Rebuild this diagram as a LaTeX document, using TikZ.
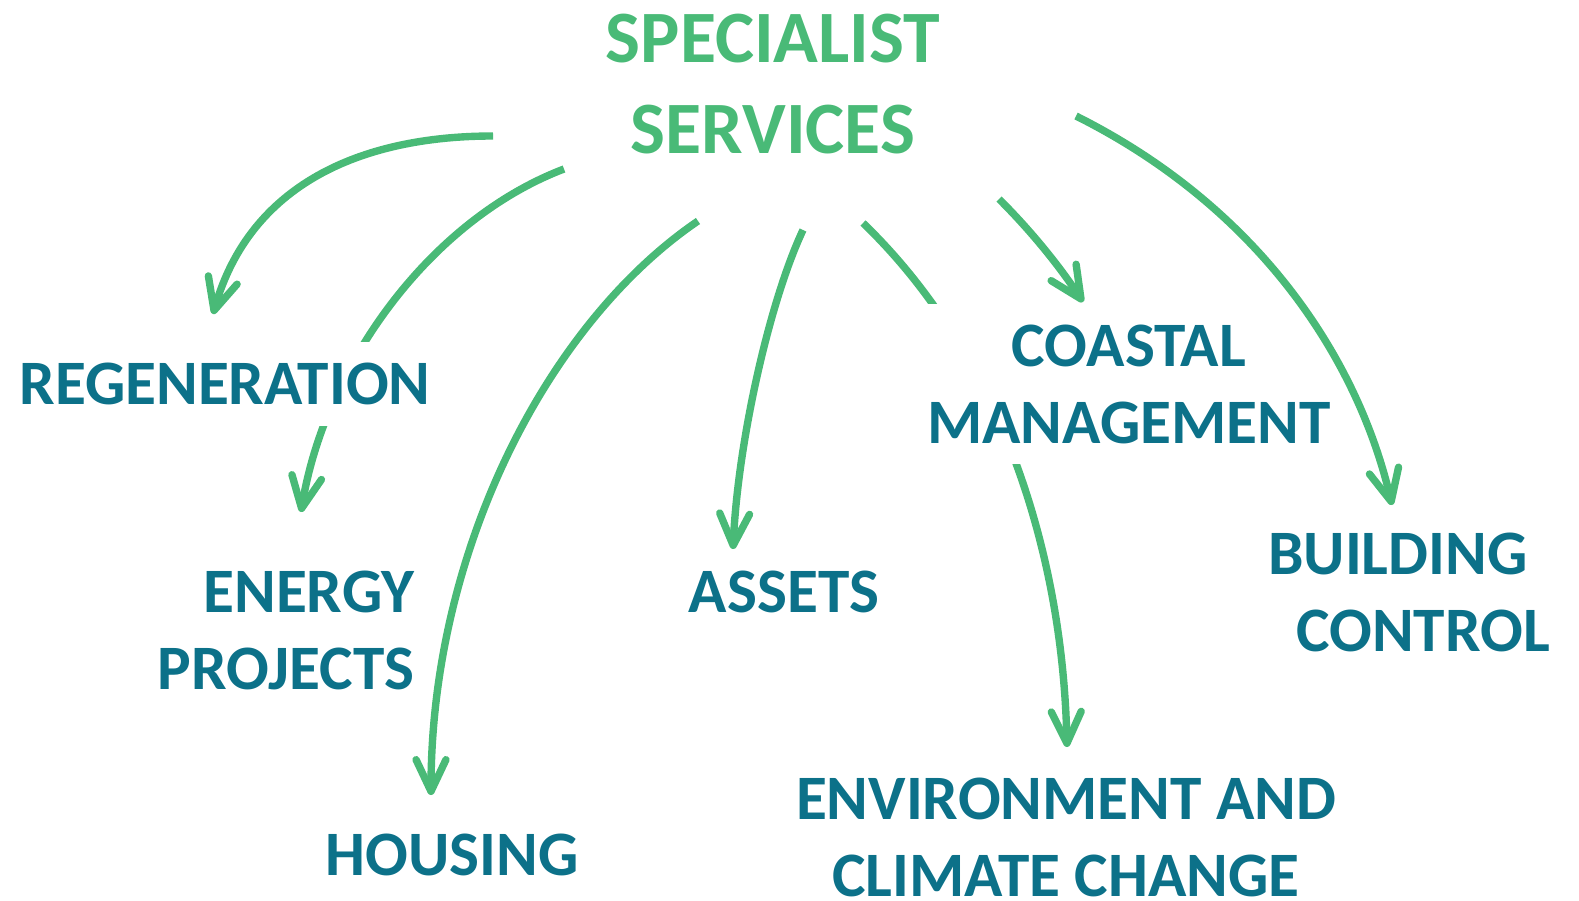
\documentclass[tikz,border=0pt]{standalone}
\usepackage{fontspec}
\setmainfont{Carlito}
\usepackage{xcolor}
\usetikzlibrary{arrows.meta,positioning}

\definecolor{svgreen}{HTML}{49BA77}
\definecolor{svteal}{HTML}{0C7189}

\tikzset{
    svc/.style={font=\bfseries\fontsize{18}{21.9}\selectfont, text=svteal, inner sep=0pt, align=center},
    head/.style={svc, text=svgreen, font=\bfseries\fontsize{21}{25.9}\selectfont},
    cover/.style={fill=white, inner xsep=4pt, inner ysep=0.21cm},
    link/.style={svgreen, line width=2.1pt, -{Straight Barb[length=9pt,width=8.5pt,round]}}
}

\begin{document}
\begin{tikzpicture}[x=0.01cm, y=-0.01cm]
    \useasboundingbox (0,0) rectangle (1579,900);

    % Start and end points
    \coordinate (s-regen) at (493,136);
    \coordinate (t-regen) at (213,314);
    \coordinate (s-energy) at (564,169);
    \coordinate (t-energy) at (301,512);
    \coordinate (s-housing) at (698,221);
    \coordinate (t-housing) at (431,795);
    \coordinate (s-assets) at (803,230);
    \coordinate (t-assets) at (733,549);
    \coordinate (s-env) at (863,223);
    \coordinate (t-env) at (1067,747);
    \coordinate (s-coastal) at (999,199);
    \coordinate (t-coastal) at (1083,302);
    \coordinate (s-building) at (1076,116);
    \coordinate (t-building) at (1392,505);

    % Arrows running behind a label
    \draw[link] (s-energy) .. controls (430,220) and (325,365) .. (t-energy);
    \draw[link] (s-env) .. controls (1005,360) and (1063,560) .. (t-env);

    % Labels
    \node[head] (spec) at (773,84) {SPECIALIST\\SERVICES};
    \node[svc, cover] (regen) at (225,384) {REGENERATION};
    \node[svc, align=right] (energy) at (286,630) {ENERGY\\PROJECTS};
    \node[svc] (housing) at (452,855) {HOUSING};
    \node[svc] (assets) at (784,592) {ASSETS};
    \node[svc, cover] (coastal) at (1129,384) {COASTAL\\MANAGEMENT};
    \node[svc, align=left] (building) at (1409,592) {BUILDING\\\hspace*{8pt}CONTROL};
    \node[svc] (env) at (1066,837) {ENVIRONMENT AND\\CLIMATE CHANGE};

    % Arrows
    \draw[link] (s-regen) .. controls (360,136) and (250,185) .. (t-regen);
    \draw[link] (s-housing) .. controls (548,323) and (431,550) .. (t-housing);
    \draw[link] (s-assets) .. controls (770,300) and (738,440) .. (t-assets);
    \draw[link] (s-coastal) .. controls (1035,235) and (1062,270) .. (t-coastal);
    \draw[link] (s-building) .. controls (1256,206) and (1357,355) .. (t-building);
\end{tikzpicture}
\end{document}
